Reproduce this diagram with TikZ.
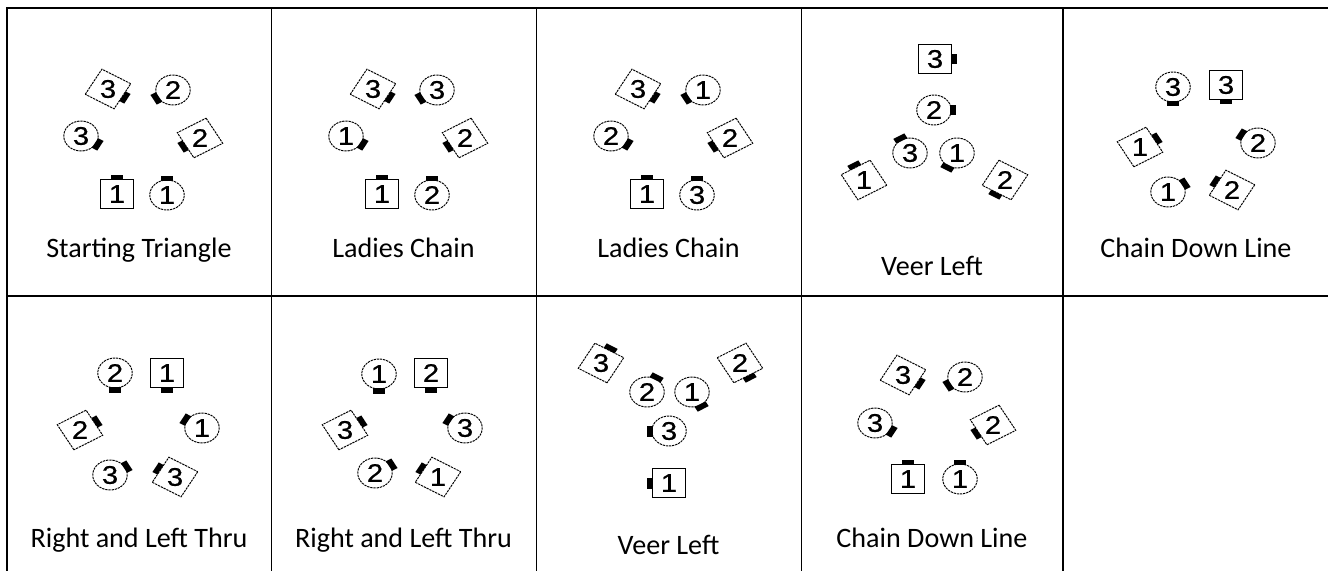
\documentclass[tikz,border=0pt]{standalone}
\usepackage{fontspec}
\setmainfont{Carlito}
\newfontfamily\numfont{Liberation Sans}[FakeBold=0.6]
\tikzset{
  upright/.style={line width=.7pt},
  tilted/.style={line width=.55pt,dash pattern=on 1.3pt off .5pt},
  num/.style={inner sep=0pt,font=\numfont\fontsize{14.5}{14.5}\selectfont},
  figlabel/.style={anchor=base,font=\fontsize{16}{19}\selectfont},
  rule/.style={line width=1.1pt}
}
% gent: square with his nose on the side he faces
\newcommand{\gent}[6][upright]{%
  \begin{scope}[shift={(#3,#4)},xscale=1.15,rotate=#5]
    \draw[#1] (-.29cm,-.29cm) rectangle (.29cm,.29cm);
    \fill (.29cm,-.11cm) rectangle (.39cm,.11cm);
  \end{scope}
  \node[num] (#2) at (#3,#4) {\scalebox{1.15}[1]{#6}};}
% lady: circle, same nose
\newcommand{\lady}[5]{%
  \begin{scope}[shift={(#2,#3)},xscale=1.15,rotate=#4]
    \draw[tilted] (0,0) circle (.3cm);
    \fill (.28cm,-.11cm) rectangle (.39cm,.11cm);
  \end{scope}
  \node[num] (#1) at (#2,#3) {\scalebox{1.15}[1]{#5}};}

\begin{document}
\begin{tikzpicture}[x=.02cm,y=-.02cm]
\useasboundingbox (0,0) rectangle (1328,571);
% table rules
\draw[rule] (7,571) -- (7,8) -- (1328,8);
\foreach \x in {271.5,536.5,801.5,1063} \draw[rule] (\x,8) -- (\x,571);
\draw[rule] (7,296) -- (573,296);\draw[line width=.6pt] (573,296) -- (767,296);\draw[rule] (767,296) -- (1328,296);

% Starting Triangle
\gent[tilted]{t1g3}{108}{89}{-30}{3}\lady{t1l2}{173}{90}{210}{2}
\lady{t1l3}{81}{136}{-30}{3}\gent[tilted]{t1g2}{200}{138}{210}{2}
\gent{t1g1}{117}{194}{90}{1}\lady{t1l1}{167}{195}{90}{1}
\node[figlabel] (lab1) at (139,257) {Starting Triangle};

% Ladies Chain
\gent[tilted]{t2g3}{373}{89}{-30}{3}\lady{t2l3}{437}{90}{210}{3}
\lady{t2l1}{346}{136}{-30}{1}\gent[tilted]{t2g2}{465}{138}{210}{2}
\gent{t2g1}{382}{194}{90}{1}\lady{t2l2}{432}{195}{90}{2}
\node[figlabel] (lab2) at (403.5,257) {Ladies Chain};

% Ladies Chain
\gent[tilted]{t3g3}{638}{89}{-30}{3}\lady{t3l1}{703}{90}{210}{1}
\lady{t3l2}{611}{136}{-30}{2}\gent[tilted]{t3g2}{730}{138}{210}{2}
\gent{t3g1}{647}{194}{90}{1}\lady{t3l3}{697}{195}{90}{3}
\node[figlabel] (lab3) at (668.5,257) {Ladies Chain};

% Veer Left
\gent{t4g3}{935}{59}{0}{3}\lady{t4l2}{934}{110}{0}{2}
\lady{t4l3}{910}{153}{120}{3}\lady{t4l1}{957}{153}{240}{1}
\gent[tilted]{t4g1}{864}{180}{120}{1}\gent[tilted]{t4g2}{1005}{180}{240}{2}
\node[figlabel] (lab4) at (932,275) {Veer Left};

% Chain Down Line
\lady{t5l3}{1173}{87}{-90}{3}\gent{t5g3}{1226}{85}{-90}{3}
\gent[tilted]{t5g1}{1140}{147}{30}{1}\lady{t5l2}{1258}{143}{150}{2}
\lady{t5l1}{1168}{192}{30}{1}\gent[tilted]{t5g2}{1232}{190}{150}{2}
\node[figlabel] (lab5) at (1196,257) {Chain Down Line};

% Right and Left Thru
\lady{t6l2}{115}{373}{-90}{2}\gent{t6g1}{167}{373}{-90}{1}
\gent[tilted]{t6g2}{80}{430}{30}{2}\lady{t6l1}{202}{428}{150}{1}
\lady{t6l3}{110}{475}{30}{3}\gent[tilted]{t6g3}{175}{477}{150}{3}
\node[figlabel] (lab6) at (139,547) {Right and Left Thru};

% Right and Left Thru
\lady{t7l1}{379}{374}{-90}{1}\gent{t7g2}{431}{373}{-90}{2}
\gent[tilted]{t7g3}{345}{430}{30}{3}\lady{t7l3}{465}{428}{150}{3}
\lady{t7l2}{375}{473}{30}{2}\gent[tilted]{t7g1}{438}{477}{150}{1}
\node[figlabel] (lab7) at (403.5,547) {Right and Left Thru};

% Veer Left
\gent[tilted]{t8g3}{601}{363}{60}{3}\gent[tilted]{t8g2}{740}{363}{-60}{2}
\lady{t8l2}{647}{392}{60}{2}\lady{t8l1}{692}{392}{-60}{1}
\lady{t8l3}{669}{431}{180}{3}\gent{t8g1}{669}{483}{180}{1}
\node[figlabel] (lab8) at (668.5,554) {Veer Left};

% Chain Down Line
\gent[tilted]{t9g3}{903}{375}{-30}{3}\lady{t9l2}{965}{377}{210}{2}
\lady{t9l3}{875}{423}{-30}{3}\gent[tilted]{t9g2}{993}{425}{210}{2}
\gent{t9g1}{908}{479}{90}{1}\lady{t9l1}{960}{479}{90}{1}
\node[figlabel] (lab9) at (932,547) {Chain Down Line};
\end{tikzpicture}
\end{document}
